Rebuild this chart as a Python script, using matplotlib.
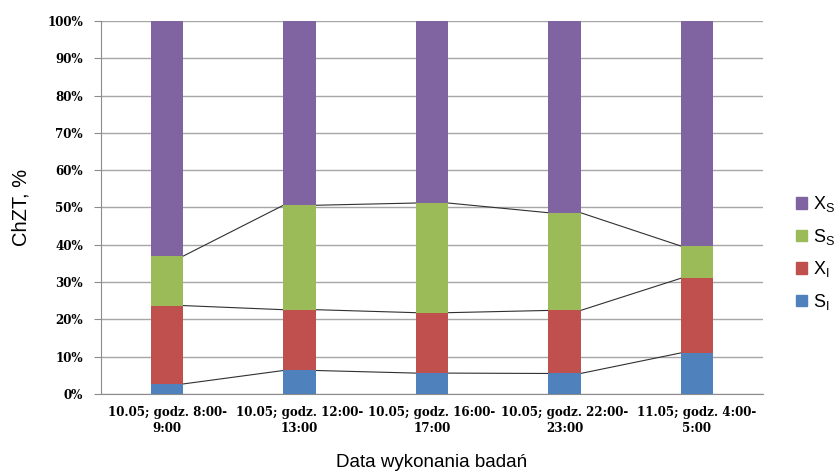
import numpy as np
import matplotlib.pyplot as plt
import matplotlib.patches as mpatches
from matplotlib.ticker import PercentFormatter

plt.rcParams['mathtext.default'] = 'regular'
plt.rcParams['font.family'] = 'Liberation Sans'

categories = ["10.05; godz. 8:00-\n9:00", "10.05; godz. 12:00-\n13:00",
              "10.05; godz. 16:00-\n17:00", "10.05; godz. 22:00-\n23:00",
              "11.05; godz. 4:00-\n5:00"]

# shares of each fraction, %
s_i = [2.7, 6.3, 5.6, 5.5, 11.0]
x_i = [21.0, 16.3, 16.2, 16.9, 20.0]
s_s = [13.3, 28.0, 29.4, 26.2, 8.7]
x_s = [63.0, 49.4, 48.8, 51.4, 60.3]

series = [("$S_I$", s_i, '#4F81BD'),
          ("$X_I$", x_i, '#C0504D'),
          ("$S_S$", s_s, '#9BBB59'),
          ("$X_S$", x_s, '#8064A2')]

fig = plt.figure(figsize=(8.39, 4.74), dpi=100)
ax = fig.add_axes([0.1204, 0.1688, 0.789, 0.7869])

x = np.arange(len(categories))
width = 0.245
bottom = np.zeros(len(categories))
handles = []
for label, vals, color in series:
    vals = np.array(vals)
    ax.bar(x, vals, width, bottom=bottom, color=color, zorder=3)
    top = bottom + vals
    # series lines between neighbouring bars
    if label != "$X_S$":
        for i in range(len(x) - 1):
            ax.plot([x[i] + width / 2, x[i + 1] - width / 2], [top[i], top[i + 1]],
                    color='#303030', lw=0.8, zorder=2)
    handles.append(mpatches.Patch(color=color, label=label))
    bottom = top

ax.set_xlim(-0.5, len(categories) - 0.5)
ax.set_ylim(0, 100)
ax.set_yticks(np.arange(0, 101, 10))
ax.yaxis.set_major_formatter(PercentFormatter(decimals=0))
ax.grid(axis='y', color='#a6a6a6', lw=1, zorder=0)

ax.set_xticks(x)
ax.set_xticklabels(categories, family='DejaVu Serif', fontweight='bold',
                   fontsize=8.6, linespacing=1.25)
ax.tick_params(axis='x', length=0, pad=9)
ax.tick_params(axis='y', length=5, color='#8c8c8c', pad=8)
for t in ax.get_yticklabels():
    t.set_family('DejaVu Serif')
    t.set_fontweight('bold')
    t.set_fontsize(8.6)

for side in ['top', 'right']:
    ax.spines[side].set_visible(False)
for side in ['left', 'bottom']:
    ax.spines[side].set_color('#8c8c8c')

ax.set_ylabel("ChZT, %", fontsize=14.5, labelpad=12)
ax.set_xlabel("Data wykonania badań", fontsize=13.5, labelpad=14)

fig.legend(handles=handles[::-1], loc='center left', bbox_to_anchor=(0.934, 0.466),
           frameon=False, fontsize=13, handlelength=0.6, handleheight=0.6,
           handletextpad=0.3, labelspacing=0.7, borderpad=0.2)

fig.savefig('out.png', dpi=100)
